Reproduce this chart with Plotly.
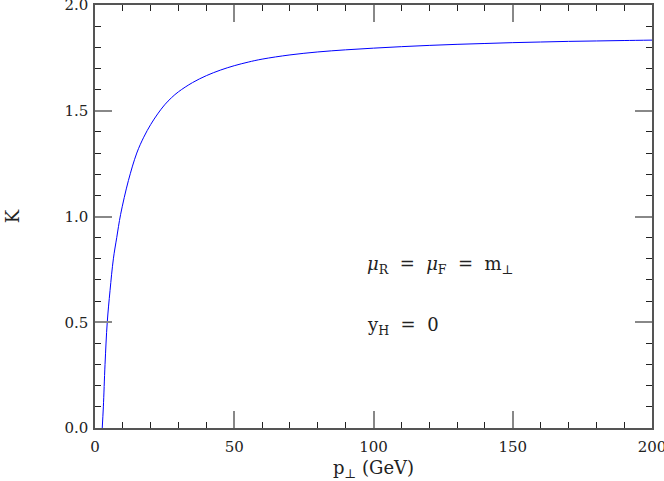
import plotly.graph_objects as go

# transverse momentum (GeV) and K factor
pt = [2.6, 3.0, 3.6, 4.4, 5.4, 6.6, 7.8, 9.2, 12, 15, 17.5, 20, 22.5, 25,
      27.5, 30, 35, 40, 45, 50, 55, 60, 70, 80, 90, 100, 110, 120, 130, 140,
      150, 160, 170, 180, 190, 200]
k_factor = [0.0, 0.10, 0.30, 0.50, 0.65, 0.80, 0.90, 1.01, 1.17, 1.30, 1.375,
            1.435, 1.485, 1.528, 1.562, 1.590, 1.633, 1.666, 1.692, 1.713,
            1.730, 1.744, 1.764, 1.778, 1.788, 1.796, 1.803, 1.809, 1.814,
            1.818, 1.822, 1.825, 1.828, 1.830, 1.832, 1.834]

font_name = "DejaVu Serif"

fig = go.Figure()
fig.add_trace(go.Scatter(x=pt, y=k_factor, mode="lines",
                         line=dict(color="#0000ff", width=1, shape="spline"),
                         showlegend=False, hoverinfo="skip"))

axis_style = dict(
    showline=True, linecolor="#555555", linewidth=1.5, mirror="allticks",
    ticks="inside", ticklen=17, tickwidth=1.5, tickcolor="#888888",
    showgrid=False, zeroline=False, automargin=False, ticklabeloverflow="allow",
    tickfont=dict(family=font_name, size=15, color="#222222"),
)

fig.update_xaxes(range=[-0.0001, 200.0001], tickvals=[0, 50, 100, 150, 200], **axis_style,
                 ticklabelstandoff=4,
                 minor=dict(dtick=10, ticklen=6, tickwidth=1, tickcolor="#222222", ticks="inside"),
                 title=dict(text="p<sub>⊥</sub> (GeV)", font=dict(family=font_name, size=18, color="#222222"),
                            standoff=8))
fig.update_yaxes(range=[-0.000001, 2.000001], tickvals=[0, 0.5, 1.0, 1.5, 2.0], tickformat=".1f", **axis_style,
                 ticklabelstandoff=2,
                 minor=dict(dtick=0.1, ticklen=6, tickwidth=1, tickcolor="#222222", ticks="inside"),
                 title=dict(text="K", font=dict(family=font_name, size=18, color="#222222"),
                            standoff=40))

fig.add_annotation(x=97, y=0.77, xref="x", yref="y", xanchor="left", showarrow=False,
                   text="<i>μ</i><sub>R</sub>  =  <i>μ</i><sub>F</sub>  =  m<sub>⊥</sub>",
                   font=dict(family=font_name, size=18, color="#222222"))
fig.add_annotation(x=97, y=0.48, xref="x", yref="y", xanchor="left", showarrow=False,
                   text="y<sub>H</sub>  =  0",
                   font=dict(family=font_name, size=18, color="#222222"))

fig.update_layout(width=664, height=481, plot_bgcolor="white", paper_bgcolor="white",
                  margin=dict(l=95, r=12, t=5, b=53), hovermode=False)

# the page has a default 8px body margin; drop it so the figure sits at the corner
fig.write_html("out.html", config={"displayModeBar": False},
               post_script="document.body.style.margin='0';")
